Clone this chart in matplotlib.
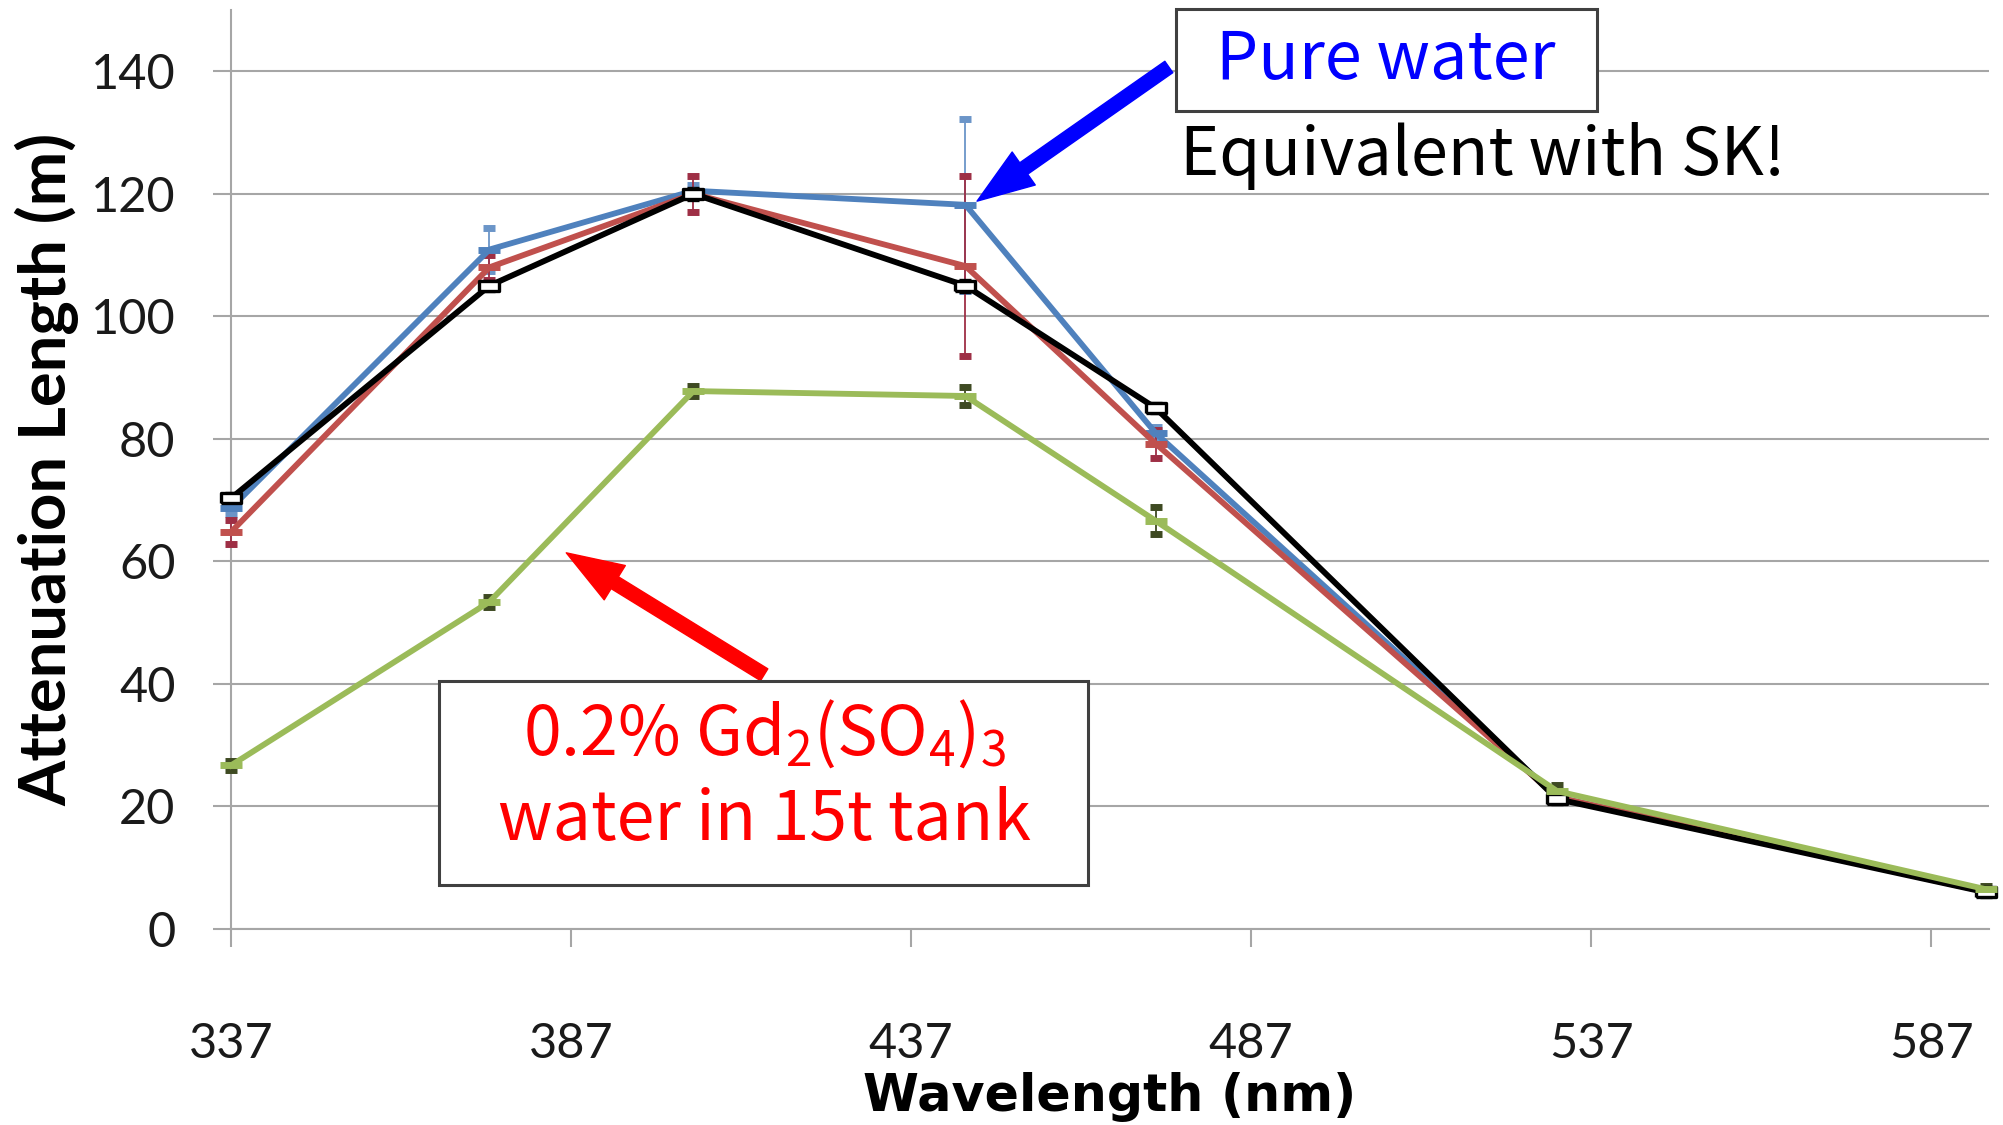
import numpy as np
import matplotlib.pyplot as plt
from matplotlib.patches import Rectangle

# ── Data: attenuation length vs. laser wavelength ─────────────
wavelength = [337, 375, 405, 445, 473, 532, 595]

pure_water = [68.7, 110.9, 120.5, 118.2, 80.9, 21.5, 6.1]
pure_water_err = [1.0, 3.5, 1.0, 14.0, 1.0, 0.8, 0.5]

red_series = [64.8, 108.0, 120.0, 108.2, 79.2, 21.5, 6.1]
red_series_err = [2.0, 2.0, 2.9, 14.7, 2.3, 0.8, 0.5]

black_series = [70.3, 105.0, 120.0, 105.0, 85.0, 21.2, 6.0]
black_series_err = [0.8, 0.8, 1.0, 1.0, 0.8, 0.8, 0.8]

gd_water = [26.7, 53.4, 87.8, 87.0, 66.6, 22.5, 6.5]
gd_water_err = [0.8, 0.8, 0.8, 1.5, 2.2, 1.0, 0.5]

xticks = [337, 387, 437, 487, 537, 587]
yticks = [0, 20, 40, 60, 80, 100, 120, 140]

W, H = 2003, 1125
fig = plt.figure(figsize=(W / 100, H / 100), dpi=100)
ax = fig.add_axes([231 / W, 1 - 929 / H, (1989 - 231) / W, (929 - 10) / H])

grey = "#A6A6A6"
dash = "_"
box_marker = [(-1, -0.55), (1, -0.55), (1, 0.55), (-1, 0.55), (-1, -0.55)]

series = [
    (pure_water, pure_water_err, "#4F81BD", "#6B95C8", dash, 16, "#4F81BD"),
    (red_series, red_series_err, "#C0504D", "#9E2F45", dash, 16, "#C0504D"),
    (black_series, black_series_err, "black", "black", box_marker, 14, "white"),
    (gd_water, gd_water_err, "#9BBB59", "#3E4A22", dash, 16, "#9BBB59"),
]
for y, err, col, ecol, mk, ms, mfc in series:
    ax.errorbar(wavelength, y, yerr=err, color=col, lw=4.2, ecolor=ecol,
                elinewidth=1.3, capsize=4.5, capthick=1.3,
                marker=mk, markersize=ms, markeredgewidth=5 if mk == dash else 2.4,
                markerfacecolor=mfc, markeredgecolor=col, clip_on=False, zorder=3)

ax.set_xlim(337, 595.5)
ax.set_ylim(0, 150)
ax.set_xticks(xticks)
ax.set_yticks(yticks)
ax.yaxis.grid(True, color=grey, lw=1.5)
ax.set_axisbelow(True)
for s in ["top", "right"]:
    ax.spines[s].set_visible(False)
for s in ["left", "bottom"]:
    ax.spines[s].set_color(grey)
    ax.spines[s].set_linewidth(1.5)
ax.tick_params(axis="both", direction="out", length=13, width=1.5, color=grey,
               labelsize=35, labelcolor="#1a1a1a")
for lbl in ax.get_xticklabels() + ax.get_yticklabels():
    lbl.set_family("Lato")
ax.tick_params(axis="y", pad=27)
ax.tick_params(axis="x", pad=54)

ax.set_xlabel("Wavelength (nm)", fontsize=36.5, fontweight="bold", family="DejaVu Sans",
              labelpad=4, x=0.5)
ax.set_ylabel("Attenuation Length (m)", fontsize=47, fontweight="bold", family="Lato",
              labelpad=8)

# ── Annotations ───────────────────────────────────────────────
jp = ["Noto Sans CJK JP", "DejaVu Sans"]

def fig_box(x0, y0, x1, y1):
    fig.patches.append(Rectangle((x0 / W, 1 - y1 / H), (x1 - x0) / W, (y1 - y0) / H,
                                 transform=fig.transFigure, fill=True, fc="white",
                                 ec="#404040", lw=2.2, zorder=5))

fig_box(1176, 9, 1597, 111)
fig.text(1386 / W, 1 - 60 / H, "Pure water", color="#0000FF", fontsize=48,
         family=jp, ha="center", va="center", zorder=6)
fig.text(1180 / W, 1 - 156 / H, "Equivalent with SK!", color="black", fontsize=48,
         family=jp, ha="left", va="center", zorder=6)

fig_box(439, 681, 1088, 885)
fig.text(764 / W, 1 - 734 / H,
         r"0.2% Gd$_\mathregular{2}$(SO$_\mathregular{4}$)$_\mathregular{3}$",
         color="#FF0000", fontsize=49, family=jp, ha="center", va="center", zorder=6)
fig.text(764 / W, 1 - 821 / H, "water in 15t tank", color="#FF0000", fontsize=49,
         family=jp, ha="center", va="center", zorder=6)

arrow_style = "simple,head_length=4.1,head_width=2.9,tail_width=1.0"
ax.annotate("", xy=(446.7, 118.8), xytext=(474.9, 140.7),
            arrowprops=dict(arrowstyle=arrow_style, mutation_scale=10, color="#0000FF",
                            shrinkA=0, shrinkB=0), annotation_clip=False, zorder=6)
ax.annotate("", xy=(386.3, 61.4), xytext=(415.4, 41.5),
            arrowprops=dict(arrowstyle=arrow_style, mutation_scale=10, color="#FF0000",
                            shrinkA=0, shrinkB=0), annotation_clip=False, zorder=6)

fig.savefig("out.png", dpi=100)
